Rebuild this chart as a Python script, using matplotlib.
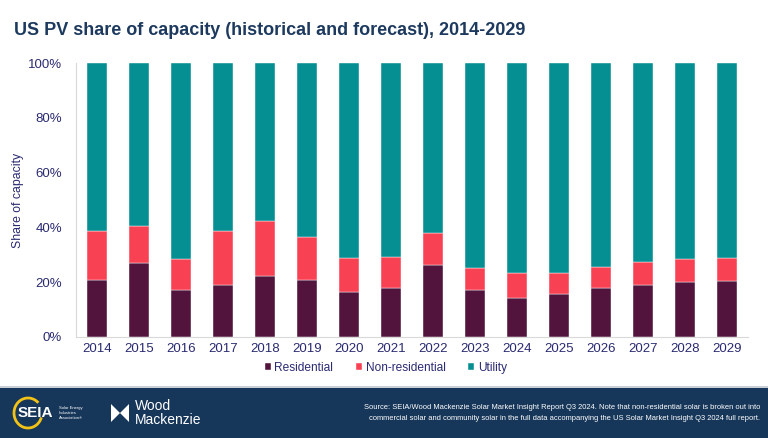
import matplotlib.pyplot as plt
import numpy as np
from matplotlib.patches import Rectangle, Arc, Polygon

years = [str(y) for y in range(2014, 2030)]
residential = [21.0, 27.1, 17.2, 18.9, 22.2, 20.7, 16.5, 18.0, 26.3, 17.0, 14.4, 15.7, 17.8, 19.1, 20.0, 20.3]
non_residential = [17.7, 13.3, 11.2, 20.0, 20.2, 15.9, 12.2, 11.2, 11.8, 8.1, 8.9, 7.6, 7.8, 8.2, 8.5, 8.6]
utility = [100 - r - n for r, n in zip(residential, non_residential)]

c_res = '#52143c'
c_non = '#f94154'
c_util = '#058f93'
navy = '#2a2a72'

plt.rcParams['font.family'] = ['Liberation Sans', 'DejaVu Sans']

fig = plt.figure(figsize=(7.68, 4.38), dpi=100)
ax = fig.add_axes([0.099, 0.2306, 0.875, 0.625])

x = np.arange(len(years))
w = 0.49
ax.bar(x, residential, w, color=c_res, label='Residential', edgecolor='white', linewidth=0.3)
ax.bar(x, non_residential, w, bottom=residential, color=c_non, label='Non-residential', edgecolor='white', linewidth=0.3)
bot2 = [r + n for r, n in zip(residential, non_residential)]
ax.bar(x, utility, w, bottom=bot2, color=c_util, label='Utility', edgecolor='white', linewidth=0.3)

ax.set_xlim(-0.5, len(years) - 0.5)
ax.set_ylim(0, 100)
ax.set_yticks(range(0, 101, 20))
ax.set_yticklabels([f'{v}%' for v in range(0, 101, 20)])
ax.set_xticks(x)
ax.set_xticklabels(years)
ax.tick_params(colors=navy, labelsize=9.5, length=0)
ax.tick_params(axis='y', pad=10)
ax.tick_params(axis='x', pad=4)
for s in ['top', 'right']:
    ax.spines[s].set_visible(False)
ax.spines['left'].set_color('#d9d9d9')
ax.spines['bottom'].set_color('#d9d9d9')
ax.set_ylabel('Share of capacity', color=navy, fontsize=8.8, labelpad=3)

ax.legend(loc='upper center', bbox_to_anchor=(0.461, -0.052), ncol=3, frameon=False,
          fontsize=8.6, handlelength=0.5, handleheight=0.5, handletextpad=0.3,
          columnspacing=1.9, labelcolor=navy)

fig.text(0.018, 0.93, 'US PV share of capacity (historical and forecast), 2014-2029',
         fontsize=13, fontweight='bold', color='#1d3a5e', va='center')

# footer band
fig.patches.append(Rectangle((0, 0), 1, 50 / 438, transform=fig.transFigure,
                             facecolor='#17375a', edgecolor='none', zorder=0))
fig.patches.append(Rectangle((0, 50 / 438), 1, 2 / 438, transform=fig.transFigure,
                             facecolor='#c9cfd6', edgecolor='none', zorder=0))

# SEIA logo
fig.patches.append(Arc((28 / 768, 25 / 438), 28 / 768, 30 / 438, angle=0, theta1=60, theta2=330,
                       transform=fig.transFigure, color='#f2c316', linewidth=2))
fig.text(18 / 768, 25 / 438, 'SEIA', color='white', fontsize=11, fontweight='bold', va='center')
fig.text(59 / 768, 25 / 438, 'Solar Energy\nIndustries\nAssociation®', color='white',
         fontsize=3, va='center', linespacing=1.3)

# Wood Mackenzie logo
fig.patches.append(Polygon([(111 / 768, 16 / 438), (111 / 768, 34 / 438), (120 / 768, 25 / 438),
                            (129 / 768, 34 / 438), (129 / 768, 16 / 438), (120 / 768, 25 / 438)],
                           closed=True, transform=fig.transFigure, facecolor='white', edgecolor='none'))
fig.text(135 / 768, 25 / 438, 'Wood\nMackenzie', color='white', fontsize=10,
         va='center', linespacing=0.95)

fig.text(760 / 768, 25 / 438,
         'Source: SEIA/Wood Mackenzie Solar Market Insight Report Q3 2024. Note that non-residential solar is broken out into\n'
         'commercial solar and community solar in the full data accompanying the US Solar Market Insight Q3 2024 full report.',
         color='white', fontsize=5.4, ha='right', va='center', linespacing=1.7)

fig.savefig('out.png', dpi=100)
